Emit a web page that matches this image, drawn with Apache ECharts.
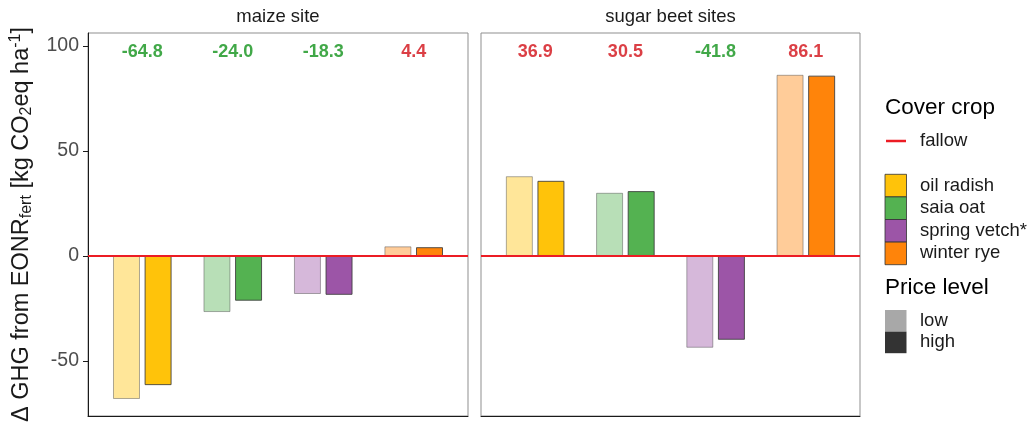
<!DOCTYPE html>
<html>
<head>
<meta charset="utf-8">
<script src="https://cdn.jsdelivr.net/npm/echarts@6/dist/echarts.min.js"></script>
<style>
  html, body { margin: 0; padding: 0; background: #ffffff; }
  #chart { width: 1029px; height: 431px; }
</style>
</head>
<body>
<div id="chart"></div>
<script>
// Change in greenhouse-gas emissions relative to EONR_fert, per cover crop,
// for two site groups and two price levels.
const sites = ['maize site', 'sugar beet sites'];
const crops = ['oil radish', 'saia oat', 'spring vetch*', 'winter rye'];
const priceLevels = ['low', 'high'];

const maizeLow  = [-68.1, -26.7, -18.1, 4.6];
const maizeHigh = [-61.5, -21.3, -18.5, 4.2];
const beetLow   = [38.0, 30.1, -43.7, 86.3];
const beetHigh  = [35.8, 30.9, -39.9, 85.9];

const yTicks = [-50, 0, 50, 100];

const cropColors = ['#FFC000', '#4DAF4A', '#984EA3', '#FF7F00'];
const FONT = "'Liberation Sans', Arial, sans-serif";

// blend a hex colour with white at a given opacity
function fade(hex, a) {
  const n = parseInt(hex.slice(1), 16);
  const r = (n >> 16) & 255, g = (n >> 8) & 255, b = n & 255;
  const m = v => Math.round(255 - (255 - v) * a);
  return 'rgb(' + m(r) + ',' + m(g) + ',' + m(b) + ')';
}

const panels = [
  { low: maizeLow, high: maizeHigh },
  { low: beetLow, high: beetHigh }
];

const Y_MIN = -76.2, Y_MAX = 106.2, LABEL_Y = 97.3;

const grids = [
  { left: 88, top: 33, width: 380, height: 383 },
  { left: 481, top: 33, width: 379, height: 383 }
].map(g => Object.assign(g, {
  show: true, borderColor: '#8f8f8f', borderWidth: 1, backgroundColor: '#ffffff'
}));

const xAxes = grids.map((g, i) => ({
  type: 'value', gridIndex: i, min: 0.4, max: 4.6,
  axisLine: { show: true, onZero: false, lineStyle: { color: '#1a1a1a', width: 1 } },
  axisTick: { show: false }, axisLabel: { show: false }, splitLine: { show: false }
}));

const yAxes = grids.map((g, i) => ({
  type: 'value', gridIndex: i, min: Y_MIN, max: Y_MAX,
  axisLine: { show: i === 0, onZero: false, lineStyle: { color: '#1a1a1a', width: 1 } },
  axisTick: { show: i === 0, customValues: yTicks, length: 5, lineStyle: { color: '#1a1a1a' } },
  axisLabel: { show: i === 0, customValues: yTicks, margin: 9, fontSize: 19.5, color: '#4d4d4d', fontFamily: FONT },
  splitLine: { show: false },
  name: i === 0 ? '{a|Δ GHG from EONR}{s|fert}{a| [kg CO}{s|2}{a|eq ha}{p|-1}{a|]}' : '',
  nameLocation: 'middle', nameRotate: 90, nameGap: 53,
  nameTextStyle: {
    fontFamily: FONT, color: '#1a1a1a',
    rich: {
      a: { fontSize: 23.5, lineHeight: 27, fontFamily: FONT, color: '#1a1a1a' },
      s: { fontSize: 16, lineHeight: 15, verticalAlign: 'bottom', fontFamily: FONT, color: '#1a1a1a' },
      p: { fontSize: 16, lineHeight: 15, verticalAlign: 'top', fontFamily: FONT, color: '#1a1a1a' }
    }
  }
}));

const series = [];
panels.forEach((p, pi) => {
  [['low', 0.4, 'rgba(70,70,70,0.45)'], ['high', 0.96, 'rgba(60,60,60,0.85)']].forEach(([key, alpha, border]) => {
    series.push({
      type: 'bar', name: key, xAxisIndex: pi, yAxisIndex: pi,
      barWidth: 27, barGap: '17%',
      data: p[key].map((v, i) => ({
        value: [i + 1, v],
        itemStyle: { color: fade(cropColors[i], alpha), borderColor: border, borderWidth: 1 }
      }))
    });
  });
  // mean change per crop, printed above the panel, plus the fallow reference line
  series.push({
    type: 'scatter', xAxisIndex: pi, yAxisIndex: pi, z: 5,
    symbolSize: 0.1, itemStyle: { color: 'transparent' }, silent: true,
    data: p.low.map((v, i) => {
      const mean = (v + p.high[i]) / 2;
      return {
        value: [i + 1, LABEL_Y, mean],
        label: { color: mean < 0 ? '#12921a' : '#d20f17' }
      };
    }),
    label: {
      show: true, position: 'inside', fontSize: 18, fontWeight: 'bold', fontFamily: FONT,
      formatter: d => d.value[2].toFixed(1)
    },
    markLine: {
      silent: true, symbol: ['none', 'none'], label: { show: false },
      lineStyle: { color: '#ec1c24', width: 2.2, type: 'solid' },
      data: [{ yAxis: 0 }]
    }
  });
});

// facet strips and legend
const graphic = [];
grids.forEach((g, i) => {
  graphic.push({
    type: 'text', x: g.left + g.width / 2, y: 17,
    style: { text: sites[i], fill: '#1a1a1a', font: '18.5px ' + FONT, textAlign: 'center', textVerticalAlign: 'middle' }
  });
});

const LX = 885, LT = 920;
graphic.push({ type: 'text', x: LX, y: 108, style: { text: 'Cover crop', fill: '#000', font: '22.5px ' + FONT, textVerticalAlign: 'middle' } });
graphic.push({ type: 'line', shape: { x1: LX + 1, y1: 141, x2: LX + 21, y2: 141 }, style: { stroke: '#ec1c24', lineWidth: 2.5 } });
graphic.push({ type: 'text', x: LT, y: 141, style: { text: 'fallow', fill: '#1a1a1a', font: '18.5px ' + FONT, textVerticalAlign: 'middle' } });
crops.forEach((c, i) => {
  const y0 = 174.3 + i * 22.6;
  graphic.push({ type: 'rect', shape: { x: LX, y: y0, width: 21.5, height: 22.6 },
    style: { fill: fade(cropColors[i], 0.96), stroke: 'rgba(50,50,50,0.8)', lineWidth: 1 } });
  graphic.push({ type: 'text', x: LT, y: y0 + 11.3, style: { text: c, fill: '#1a1a1a', font: '18.5px ' + FONT, textVerticalAlign: 'middle' } });
});
graphic.push({ type: 'text', x: LX, y: 288, style: { text: 'Price level', fill: '#000', font: '22.5px ' + FONT, textVerticalAlign: 'middle' } });
const priceFills = ['#a8a8a8', '#333333'];
priceLevels.forEach((lv, i) => {
  const y0 = 310 + i * 21.6;
  graphic.push({ type: 'rect', shape: { x: LX, y: y0, width: 21.5, height: 21.6 }, style: { fill: priceFills[i] } });
  graphic.push({ type: 'text', x: LT, y: y0 + 10.8, style: { text: lv, fill: '#1a1a1a', font: '18.5px ' + FONT, textVerticalAlign: 'middle' } });
});

const chart = echarts.init(document.getElementById('chart'), null, { renderer: 'canvas' });
chart.setOption({
  animation: false,
  backgroundColor: '#ffffff',
  textStyle: { fontFamily: FONT },
  grid: grids,
  xAxis: xAxes,
  yAxis: yAxes,
  series: series,
  graphic: graphic
});
</script>
</body>
</html>
